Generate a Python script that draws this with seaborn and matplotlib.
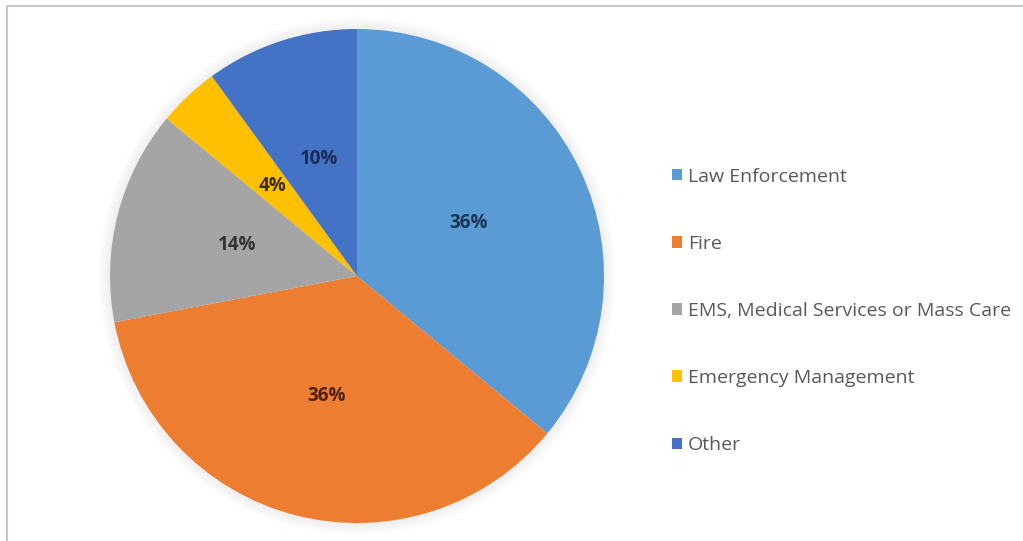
import matplotlib
matplotlib.use("Agg")
import matplotlib.pyplot as plt
import seaborn as sns
from matplotlib.lines import Line2D
from matplotlib.patches import Patch, Circle

sns.set_theme(style="white")
plt.rcParams["font.family"] = ["Open Sans", "DejaVu Sans"]

categories = ["Law Enforcement", "Fire", "EMS, Medical Services or Mass Care",
              "Emergency Management", "Other"]
shares = [36, 36, 14, 4, 10]
colors = ["#5B9BD5", "#ED7D31", "#A5A5A5", "#FFC000", "#4472C4"]
label_colors = ["#1c3553", "#4b230c", "#333333", "#3b2c00", "#1a2c55"]

W, H = 1023, 541
fig = plt.figure(figsize=(W / 100, H / 100), dpi=100)
fig.patch.set_facecolor("white")

# pie axes: centre (357, 276), radius 247 px
cx, cy, r = 357, 276, 247
pad = 1.08
ax = fig.add_axes([(cx - r * pad) / W, (H - cy - r * pad) / H,
                   2 * r * pad / W, 2 * r * pad / H])

# soft shadow ring behind the pie
for k in range(8):
    ax.add_patch(Circle((0, 0), 1.0 + 0.006 * (k + 1), facecolor="#b8b8b8",
                        edgecolor="none", alpha=0.028, zorder=0))

wedges, texts, autotexts = ax.pie(
    shares, colors=colors, startangle=90, counterclock=False,
    autopct="%1.0f%%", pctdistance=0.5,
    wedgeprops=dict(linewidth=0, zorder=2),
    textprops=dict(fontsize=13.5, fontweight="bold"),
)
for t, c in zip(autotexts, label_colors):
    t.set_color(c)
    t.set_zorder(3)
ax.set_aspect("equal")
ax.set_xlim(-pad, pad)
ax.set_ylim(-pad, pad)
ax.axis("off")

# legend on the right
handles = [Patch(facecolor=c, edgecolor="none") for c in colors]
fig.legend(handles, categories, loc="upper left",
           bbox_to_anchor=(654 / W, 1 - 150 / H), frameon=False,
           fontsize=14, labelcolor="#595959", handlelength=0.55,
           handleheight=0.55, handletextpad=0.3, labelspacing=2.53)

# frame lines along the top and left edges
fig.add_artist(Line2D([7 / W, 1], [1 - 6 / H, 1 - 6 / H],
                      transform=fig.transFigure, color="#c8c8c8", lw=1.5))
fig.add_artist(Line2D([7 / W, 7 / W], [0, 1 - 6 / H],
                      transform=fig.transFigure, color="#c8c8c8", lw=1.5))

fig.savefig("out.png", dpi=100)
